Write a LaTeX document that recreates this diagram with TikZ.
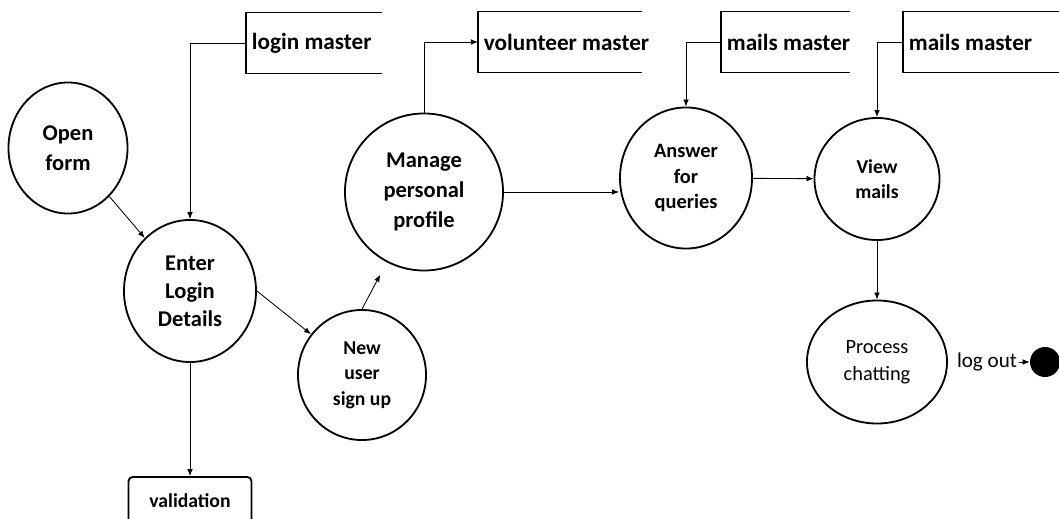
\documentclass[tikz,border=0pt]{standalone}
\usepackage{fontspec}
\setmainfont{Carlito}
\usetikzlibrary{shapes.geometric,arrows.meta}
\begin{document}
\begin{tikzpicture}[x=0.025cm,y=-0.025cm]
\tikzset{bubble/.style = {shape=ellipse,draw,line width=1.3pt,align=center,inner sep=0pt,font=\bfseries}}
\tikzset{store/.style = {anchor=west,minimum height=1.5cm,inner xsep=4pt,font=\fontsize{16.5}{20}\bfseries}}
\tikzset{flow/.style = {-{Latex[length=5pt,width=4pt]},line width=0.6pt}}
\useasboundingbox (0,0) rectangle (1059,519);
% process bubbles
\node[bubble,minimum width=2.975cm,minimum height=3.275cm,font=\fontsize{16}{21}\bfseries] (open) at (68,148) {Open\\form};
\node[bubble,minimum width=3.3cm,minimum height=3.55cm,font=\fontsize{16}{20}\bfseries] (enter) at (190,291) {Enter\\Login\\Details};
\node[bubble,minimum width=3.2cm,minimum height=3.25cm,font=\fontsize{14}{18}\bfseries] (new) at (362,375) {New\\user\\sign up};
\node[bubble,minimum width=3.95cm,minimum height=3.925cm,font=\fontsize{16}{21}\bfseries] (manage) at (424,192) {Manage\\personal\\profile};
\node[bubble,minimum width=3.3cm,minimum height=3.525cm,font=\fontsize{14.5}{18}\bfseries] (answer) at (686,178) {Answer\\for\\queries};
\node[bubble,minimum width=3.125cm,minimum height=3.05cm,font=\fontsize{14}{18}\bfseries] (view) at (877,179) {View\\mails};
\node[bubble,minimum width=3.5cm,minimum height=3.075cm,font=\fontsize{14.5}{19}\selectfont] (chat) at (877,362) {Process\\chatting};
\node[draw,rounded corners=3pt,line width=1.3pt,minimum width=3.075cm,minimum height=1.2cm,font=\fontsize{14}{17}\bfseries] (valid) at (190,501) {validation};
% data stores (open on the right)
\node[store] (login) at (246,43) {login master};
\node[store] (vol) at (478,42) {volunteer master};
\node[store] (mails1) at (721,42) {mails master};
\node[store] (mails2) at (903,42) {mails master};
\foreach \s/\w in {login/136,vol/164,mails1/129,mails2/156}
  \draw[line width=0.8pt] (\s.north west) ++(\w,0) -- (\s.north west) -- (\s.south west) -- ++(\w,0);
% end point
\node[font=\fontsize{15}{18}\selectfont,inner sep=1pt] (logout) at (987,362) {log out};
\node[shape=circle,fill,minimum size=0.75cm,inner sep=0pt] (stop) at (1045,362) {};
% flows
\draw[flow] (open) -- (enter);
\draw[flow] (login.west) -| (enter.north);
\draw[flow] (enter.east) -- (new);
\draw[flow] (enter) -- (valid);
\draw[flow,shorten >=10pt] (new.north) -- (manage);
\draw[flow] (manage.north) |- (vol.west);
\draw[flow] (manage.east) -- (manage.east -| answer.west);
\draw[flow] (mails1.west) -| (answer.north);
\draw[flow] (answer) -- (view);
\draw[flow] (mails2.west) -| (view.north);
\draw[flow] (view) -- (chat);
\draw[flow] (logout) -- (stop);
\end{tikzpicture}
\end{document}
